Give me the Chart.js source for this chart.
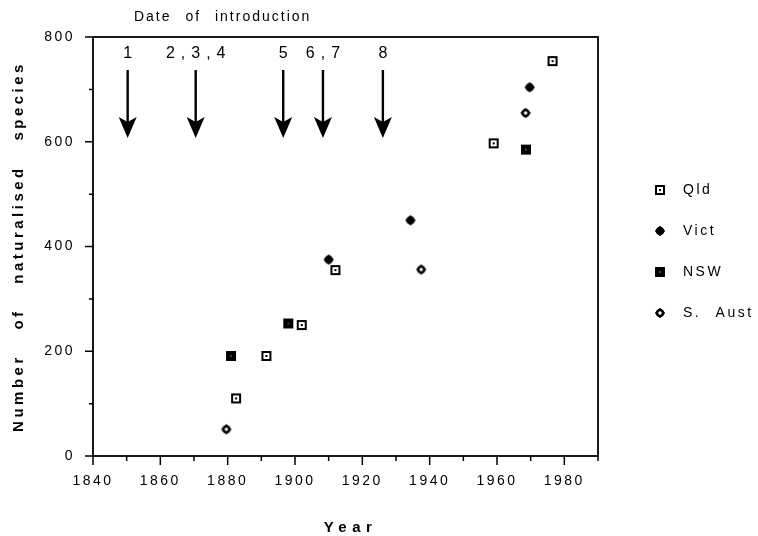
<!DOCTYPE html>
<html>
<head>
<meta charset="utf-8">
<title>Naturalised species</title>
<script src="https://cdn.jsdelivr.net/npm/chart.js@4/dist/chart.umd.min.js"></script>
<style>
  body { margin: 0; background: #fff; }
  #wrap { width: 758px; height: 536px; }
</style>
</head>
<body>
<div id="wrap"><canvas id="chart" width="758" height="536"></canvas></div>
<script>
// series: year, number of naturalised species
const qldYears = [1882.5, 1891.5, 1902, 1912, 1959, 1976.5];
const qldCounts = [110, 191, 250, 355, 597, 754];
const victYears = [1910, 1934.3, 1969.7];
const victCounts = [375, 450, 704];
const nswYears = [1881, 1898, 1968.6];
const nswCounts = [191, 253, 585];
const saYears = [1879.6, 1937.5, 1968.5];
const saCounts = [51, 356, 655];

// dates of introduction (arrows)
const introYears = [1850.3, 1870.5, 1896.5, 1908.3, 1926.1];
const introLabels = ['1', '2,3,4', '5', '6,7', '8'];
const introTitle = 'Date of introduction';

const seriesNames = ['Qld', 'Vict', 'NSW', 'S. Aust'];
const xTitle = 'Year';
const yTitle = 'Number of naturalised species';

const FONT = '"Liberation Sans", Arial, Helvetica, sans-serif';

function pts(xs, ys) {
    return xs.map((x, i) => ({ x: x, y: ys[i] }));
}

// little canvases used as point styles
function marker(draw) {
    let c = document.createElement('canvas');
    c.width = 12;
    c.height = 12;
    let g = c.getContext('2d');
    g.fillStyle = '#000';
    draw(g);
    return c;
}
function diamond(g) {
    g.beginPath();
    g.moveTo(6, 0.8);
    g.lineTo(11.2, 6);
    g.lineTo(6, 11.2);
    g.lineTo(0.8, 6);
    g.closePath();
    g.fill();
    g.beginPath();
    g.arc(6, 6, 4.3, 0, Math.PI * 2);
    g.fill();
}
const qldMark = marker(g => {
    g.fillRect(1, 1, 10, 10);
    g.fillStyle = '#fff';
    g.fillRect(3, 3, 6, 6);
    g.fillStyle = '#000';
    g.fillRect(5, 5, 2, 2);
});
const victMark = marker(g => diamond(g));
const nswMark = marker(g => {
    g.fillRect(1, 1, 10, 10);
    g.fillStyle = '#fff';
    g.fillRect(5.5, 5.5, 1, 1);
});
const saMark = marker(g => {
    diamond(g);
    g.fillStyle = '#fff';
    g.beginPath();
    g.arc(6, 6, 1.7, 0, Math.PI * 2);
    g.fill();
});

function setSpacing(ctx, ls, ws) {
    ctx.letterSpacing = ls + 'px';
    ctx.wordSpacing = ws + 'px';
}

const spacingPlugin = {
    id: 'spacing',
    beforeUpdate(chart) { setSpacing(chart.ctx, 2.5, 8); },
    beforeDraw(chart) {
        const ctx = chart.ctx;
        ctx.save();
        ctx.fillStyle = '#fff';
        ctx.fillRect(0, 0, chart.width, chart.height);
        ctx.restore();
        setSpacing(ctx, 2.5, 8);
    }
};

// frame, major/minor tick marks and the two axis titles
const framePlugin = {
    id: 'frame',
    afterDraw(chart) {
        const { ctx, chartArea: a, scales: { x, y } } = chart;
        ctx.save();
        ctx.strokeStyle = '#000';
        ctx.lineWidth = 1.8;
        ctx.strokeRect(a.left, a.top, a.right - a.left, a.bottom - a.top);
        ctx.lineWidth = 1.5;
        ctx.beginPath();
        x.ticks.forEach(t => {
            let px = x.getPixelForValue(t.value);
            let len = t.value % 20 === 0 ? 9 : 5;
            ctx.moveTo(px, a.bottom);
            ctx.lineTo(px, a.bottom + len);
        });
        y.ticks.forEach(t => {
            let py = y.getPixelForValue(t.value);
            let len = t.value % 200 === 0 ? 8 : 4;
            ctx.moveTo(a.left - len, py);
            ctx.lineTo(a.left, py);
        });
        ctx.stroke();

        ctx.fillStyle = '#000';
        ctx.textAlign = 'center';
        ctx.textBaseline = 'middle';
        ctx.font = 'bold 15px ' + FONT;
        setSpacing(ctx, 5.5, 8);
        ctx.fillText(xTitle, (a.left + a.right) / 2 + 5, 528);
        setSpacing(ctx, 3.5, 17);
        ctx.translate(19, (a.top + a.bottom) / 2);
        ctx.rotate(-Math.PI / 2);
        ctx.fillText(yTitle, 0, 0);
        ctx.restore();
        setSpacing(ctx, 2.5, 8);
    }
};

// legend to the right of the frame
const legendPlugin = {
    id: 'sideLegend',
    afterDraw(chart) {
        const ctx = chart.ctx;
        ctx.save();
        ctx.font = '14px ' + FONT;
        ctx.fillStyle = '#000';
        ctx.textAlign = 'left';
        ctx.textBaseline = 'middle';
        setSpacing(ctx, 2.5, 8);
        chart.data.datasets.forEach((ds, i) => {
            let cy = 190 + i * 41;
            ctx.drawImage(ds.pointStyle, 660 - 6, cy - 6);
            ctx.fillText(ds.label, 683, cy);
        });
        ctx.restore();
    }
};

// arrows marking the dates of introduction
const arrowPlugin = {
    id: 'introArrows',
    afterDraw(chart) {
        const { ctx, chartArea: a, scales: { x, y } } = chart;
        ctx.save();
        ctx.fillStyle = '#000';
        ctx.strokeStyle = '#000';
        ctx.textAlign = 'center';
        ctx.textBaseline = 'middle';
        let top = y.getPixelForValue(737);
        let tip = y.getPixelForValue(607);
        introYears.forEach((yr, i) => {
            let px = x.getPixelForValue(yr);
            ctx.lineWidth = 2.4;
            ctx.beginPath();
            ctx.moveTo(px, top);
            ctx.lineTo(px, tip - 12);
            ctx.stroke();
            ctx.beginPath();
            ctx.moveTo(px, tip);
            ctx.lineTo(px - 9, tip - 21);
            ctx.lineTo(px, tip - 16);
            ctx.lineTo(px + 9, tip - 21);
            ctx.closePath();
            ctx.fill();
            ctx.font = '16px ' + FONT;
            setSpacing(ctx, 6, 8);
            ctx.fillText(introLabels[i], px + 3, y.getPixelForValue(769));
        });
        ctx.font = '14px ' + FONT;
        setSpacing(ctx, 2, 8);
        ctx.fillText(introTitle, x.getPixelForValue(1878.5), a.top - 20);
        ctx.restore();
        setSpacing(ctx, 2.5, 8);
    }
};

Chart.defaults.font.family = FONT;
Chart.defaults.font.size = 14;
Chart.defaults.color = '#000';

const chart = new Chart(document.getElementById('chart'), {
    type: 'scatter',
    data: {
        datasets: [
            { label: seriesNames[0], data: pts(qldYears, qldCounts), pointStyle: qldMark },
            { label: seriesNames[1], data: pts(victYears, victCounts), pointStyle: victMark },
            { label: seriesNames[2], data: pts(nswYears, nswCounts), pointStyle: nswMark },
            { label: seriesNames[3], data: pts(saYears, saCounts), pointStyle: saMark }
        ]
    },
    options: {
        responsive: false,
        animation: false,
        layout: { padding: { top: 37, right: 160, left: 0, bottom: 0 } },
        elements: { point: { radius: 6 } },
        plugins: {
            tooltip: { enabled: false },
            legend: { display: false }
        },
        scales: {
            x: {
                type: 'linear',
                min: 1840,
                max: 1990,
                grid: { display: false, drawTicks: false },
                border: { display: false },
                ticks: {
                    stepSize: 10,
                    autoSkip: false,
                    maxRotation: 0,
                    padding: 17,
                    font: { size: 14 },
                    callback: v => (v % 20 === 0 ? v : '')
                },
                afterFit: s => { s.height = 80; }
            },
            y: {
                min: 0,
                max: 800,
                grid: { display: false, drawTicks: false },
                border: { display: false },
                ticks: {
                    stepSize: 100,
                    autoSkip: false,
                    padding: 18,
                    font: { size: 14 },
                    callback: v => (v % 200 === 0 ? v : '')
                },
                afterFit: s => { s.width = 93; }
            }
        }
    },
    plugins: [spacingPlugin, framePlugin, legendPlugin, arrowPlugin]
});
</script>
</body>
</html>
